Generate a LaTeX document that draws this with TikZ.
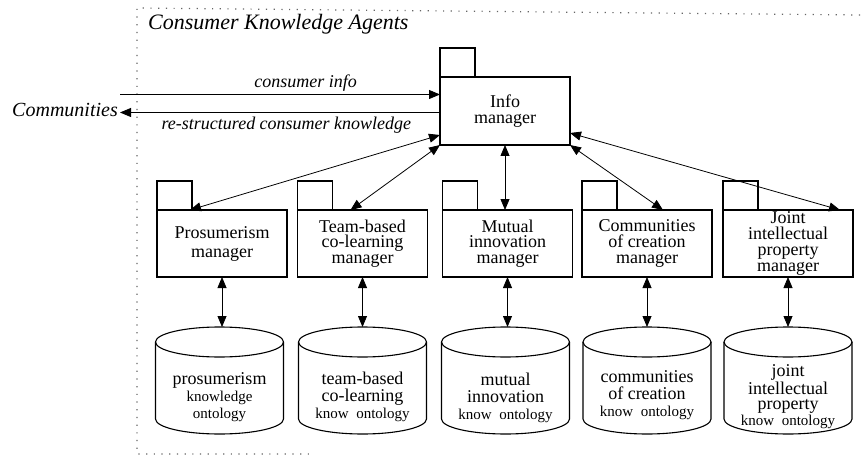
\documentclass[tikz,border=0pt]{standalone}
\usepackage{fontspec}
\setmainfont{Liberation Serif}
\usetikzlibrary{arrows.meta,calc}

\tikzset{
  boxline/.style={draw, line width=1.1pt},
  agentbox/.style={boxline, minimum width=130pt, minimum height=67pt,
    inner sep=0pt, outer sep=0pt, align=center,
    font=\fontsize{18}{15.8}\selectfont},
  dbnode/.style={minimum width=128pt, minimum height=107pt, inner sep=0pt, outer sep=0pt},
  dbtext/.style={align=center, inner sep=0pt, font=\fontsize{18}{17}\selectfont},
  onearrow/.style={line width=0.8pt, -{Triangle[length=11pt,width=9pt]}},
  biarrow/.style={line width=0.8pt, {Triangle[length=11pt,width=9pt]}-{Triangle[length=11pt,width=9pt]}},
  frameline/.style={line width=1.2pt, gray!80!black, dash pattern=on 1.2pt off 6.5pt},
  flowlabel/.style={font=\fontsize{18}{18}\selectfont\itshape, inner sep=0pt}
}

% agent box with its small tab on the upper left
\newcommand\agenttab[1]{\draw[boxline] (#1.north west) rectangle ++(35pt,29pt);}
% knowledge store drawn as a cylinder round an empty node
\newcommand\drawstore[1]{%
  \draw[line width=1.1pt] ([yshift=-15pt]#1.north west) -- ([yshift=15pt]#1.south west)
    arc[start angle=180,end angle=360,x radius=64pt,y radius=15pt]
    -- ([yshift=-15pt]#1.north east);
  \draw[line width=1.1pt] ([yshift=-15pt]#1.north) ellipse[x radius=64pt,y radius=15pt];}
\newcommand\smallline[1]{{\fontsize{15}{17}\selectfont #1}}

\begin{document}
\begin{tikzpicture}[x=1pt,y=1pt]
\useasboundingbox (0,0) rectangle (861,-457);

% dotted boundary of the agent system
\draw[frameline] (860,-15) -- (137,-8) -- (137,-454) -- (310,-454);
\node[anchor=base west, inner sep=0pt, font=\fontsize{22}{22}\selectfont\itshape]
  (title) at (148,-30) {Consumer Knowledge Agents};

% outside party
\node[anchor=base east, inner sep=2pt, font=\fontsize{20}{20}\selectfont\itshape]
  (comm) at (120,-117) {Communities};

% info manager
\node[agentbox, minimum height=68pt] (im) at (505,-111) {Info\\manager};
\agenttab{im}

% specialised managers
\node[agentbox, font=\fontsize{18}{19}\selectfont] (pm) at (222,-243.5) {Prosumerism\\manager};
\node[agentbox] (tm) at (362.5,-243.5) {Team-based\\co-learning\\manager};
\node[agentbox] (mm) at (507.5,-243.5) {Mutual\\innovation\\manager};
\node[agentbox] (cm) at (647,-243.5) {Communities\\of creation\\manager};
\node[agentbox] (jm) at (788,-243.5) {Joint\\intellectual\\property\\manager};
\foreach \n in {pm,tm,mm,cm,jm} {\agenttab{\n}}

% knowledge ontologies
\node[dbnode] (pdb) at (219.5,-380.5) {};
\node[dbnode] (tdb) at (362.5,-380.5) {};
\node[dbnode] (mdb) at (505.5,-380.5) {};
\node[dbnode] (cdb) at (647,-380.5) {};
\node[dbnode] (jdb) at (788,-380.5) {};
\foreach \n in {pdb,tdb,mdb,cdb,jdb} {\drawstore{\n}}

\node[dbtext] (pdbt) at ([yshift=-17pt]pdb.center) {prosumerism\\\smallline{knowledge}\\\smallline{ontology}};
\node[dbtext] (tdbt) at ([yshift=-16pt]tdb.center) {team-based\\co-learning\\\smallline{know\ \ ontology}};
\node[dbtext] (mdbt) at ([yshift=-17pt]mdb.center) {mutual\\innovation\\\smallline{know\ \ ontology}};
\node[dbtext] (cdbt) at ([yshift=-15pt]cdb.center) {communities\\of creation\\\smallline{know\ \ ontology}};
\node[dbtext, font=\fontsize{18}{15.5}\selectfont] (jdbt) at ([yshift=-16pt]jdb.center) {joint\\intellectual\\property\\\smallline{know\ \ ontology}};

% flows between the communities and the info manager
\draw[onearrow] ([yshift=16pt]comm.east) -- ([yshift=16pt]comm.east -| im.west)
  node[flowlabel, pos=0.58, above=2.5pt] (lab1) {consumer info};
\draw[onearrow] ([yshift=-2pt]comm.east -| im.west) -- ([yshift=-2pt]comm.east)
  node[flowlabel, pos=0.48, below=4pt] (lab2) {re-structured consumer knowledge};

% info manager to specialised managers
\draw[biarrow] ([yshift=-24pt]im.west) -- ([xshift=33pt]pm.north west);
\draw[biarrow] (im.south west) -- ([xshift=53pt]tm.north west);
\draw[biarrow] (im.south) -- (im.south |- mm.north);
\draw[biarrow] (im.south east) -- ([xshift=16pt]cm.north);
\draw[biarrow] ([yshift=-22pt]im.east) -- ([xshift=-13pt]jm.north east);

% managers to their ontologies
\draw[biarrow] (pm.south) -- (pm.south |- pdb.north);
\draw[biarrow] (tm.south) -- (tm.south |- tdb.north);
\draw[biarrow] (mm.south) -- (mm.south |- mdb.north);
\draw[biarrow] (cm.south) -- (cm.south |- cdb.north);
\draw[biarrow] (jm.south) -- (jm.south |- jdb.north);
\end{tikzpicture}
\end{document}
